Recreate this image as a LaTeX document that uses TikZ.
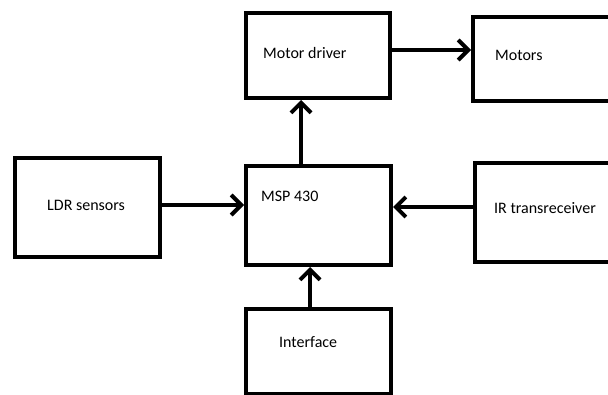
\documentclass[tikz,border=0pt]{standalone}
\usepackage{fontspec}
\setmainfont{Carlito}
\usetikzlibrary{arrows.meta}
\begin{document}
\begin{tikzpicture}[x=1pt,y=-1pt,
  box/.style={draw=black, line width=4pt, rectangle, inner sep=0pt},
  lbl/.style={anchor=west, inner sep=0pt, font=\fontsize{16}{19}\selectfont},
  arr/.style={line width=4pt, -{Straight Barb[length=10pt,width=20pt]}}]
\useasboundingbox (0,0) rectangle (608,395);
\fill[white] (0,0) rectangle (608,395);
\clip (0,0) rectangle (608,395);
% boxes
\node[box, minimum width=144pt, minimum height=85pt] (md) at (318,55.5) {};
\node[box, minimum width=167pt, minimum height=84pt] (mot) at (556.5,59) {};
\node[box, minimum width=145pt, minimum height=99pt] (ldr) at (87.5,207.5) {};
\node[box, minimum width=145pt, minimum height=99pt] (msp) at (318.5,215.5) {};
\node[box, minimum width=165pt, minimum height=99pt] (ir) at (557.5,212.5) {};
\node[box, minimum width=145pt, minimum height=85pt] (intf) at (318.5,351.5) {};
% labels
\node[lbl] (tmd) at (263,53) {Motor driver};
\node[lbl] (tmot) at (495,55) {Motors};
\node[lbl] (tldr) at (47,205) {LDR sensors};
\node[lbl] (tmsp) at (261,196) {MSP 430};
\node[lbl] (tir) at (494,208) {IR transreceiver};
\node[lbl] (tintf) at (279,342) {Interface};
% connectors
\draw[arr] (md.east |- 0,50) -- (mot.west |- 0,50);
\draw[arr] (msp.north -| 301,0) -- (md.south -| 301,0);
\draw[arr] (ldr.east |- 0,205) -- (msp.west |- 0,205);
\draw[arr] (ir.west |- 0,207) -- (msp.east |- 0,207);
\draw[arr] (intf.north -| 310,0) -- (msp.south -| 310,0);
\end{tikzpicture}
\end{document}
